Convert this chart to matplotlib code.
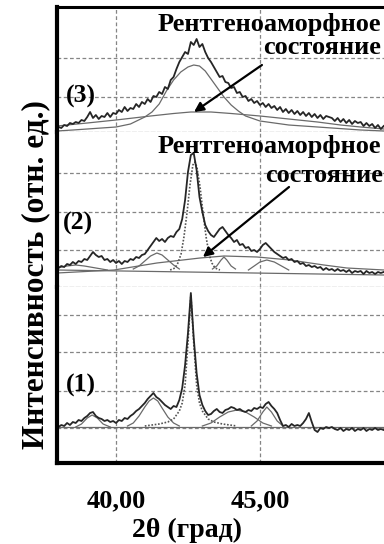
import matplotlib
matplotlib.use("Agg")
import matplotlib.pyplot as plt

plt.rcParams['font.family'] = ['Liberation Serif', 'DejaVu Serif']
plt.rcParams['font.weight'] = 'bold'

# ---------------- data (2θ in degrees, intensity in relative units) -------------
two_theta = [round(38.0 + 0.1 * i, 1) for i in range(114)]

# Sample (3)
exp3 = [5, 4, 7, 6, 9, 8, 10, 9, 12, 11,
        15, 20, 14, 17, 13, 16, 15, 19, 15, 19,
        18, 22, 20, 25, 21, 24, 23, 28, 25, 30,
        28, 33, 30, 36, 35, 40, 38, 45, 43, 52,
        55, 63, 70, 75, 80, 78, 90, 87, 93, 85,
        88, 80, 74, 70, 65, 60, 55, 56, 50, 49,
        44, 45, 39, 40, 35, 36, 31, 33, 29, 31,
        27, 29, 25, 28, 24, 26, 22, 25, 20, 23,
        19, 22, 18, 21, 17, 20, 16, 19, 15, 18,
        14, 17, 13, 16, 15, 14, 11, 14, 10, 13,
        9, 12, 8, 11, 9, 10, 6, 9, 6, 8,
        4, 7, 3, 6]
p3_peak_x = [37.95, 38.5, 39.0, 39.5, 40.0, 40.5, 41.0, 41.25, 41.5, 41.75, 42.0, 42.25,
             42.5, 42.7, 42.9, 43.1, 43.3, 43.5, 43.75, 44.0, 44.25, 44.5, 45.0, 45.5,
             46.0, 46.5, 47.0, 47.5, 48.0, 48.5, 49.31]
p3_peak_y = [1, 2, 3, 4, 5, 8, 15, 20, 28, 41, 52, 60, 65, 67, 66, 61, 53, 45, 35, 27,
             21, 16, 11, 9, 7, 6, 5, 4, 3, 2, 1]
p3_amorph_x = [37.95, 39.0, 40.0, 41.2, 42.0, 42.6, 43.3, 44.0, 45.0, 46.0, 47.0, 47.8, 48.5, 49.31]
p3_amorph_y = [6, 9, 12, 16, 18.5, 20, 20, 18.5, 16, 13, 10, 7, 5, 3]

# Sample (2)
exp2 = [19, 21, 20, 23, 22, 25, 23, 26, 25, 28,
        27, 31, 35, 32, 30, 31, 27, 28, 25, 27,
        24, 26, 23, 26, 25, 28, 27, 30, 29, 32,
        33, 37, 41, 45, 49, 46, 48, 45, 49, 51,
        50, 55, 58, 68, 87, 115, 132, 134, 117, 90,
        75, 62, 56, 52, 50, 54, 58, 60, 56, 52,
        49, 45, 47, 42, 43, 39, 40, 36, 37, 35,
        38, 42, 44, 41, 38, 35, 33, 31, 29, 30,
        27, 28, 25, 26, 23, 24, 21, 22, 20, 21,
        19, 20, 17, 19, 17, 18, 16, 18, 16, 17,
        15, 17, 14, 16, 15, 16, 13, 16, 14, 15,
        13, 15, 14, 15]
p2_base_x = [37.95, 49.31]
p2_base_y = [17, 12]
p2_main_x = [41.88, 42.05, 42.15, 42.26, 42.36, 42.47, 42.57, 42.67, 42.74, 42.81, 42.92,
             43.02, 43.13, 43.23, 43.33, 43.44, 43.61]
p2_main_y = [17, 19, 24, 33, 50, 75, 102, 122, 125, 120, 100, 75, 50, 33, 24, 19, 17]
p2_left_x = [37.95, 38.3, 38.6, 38.9, 39.3, 39.7]
p2_left_y = [19, 21, 22, 21, 19, 17]
p2_s1_x = [40.6, 40.8, 41.0, 41.2, 41.42, 41.6, 41.8, 42.0, 42.2]
p2_s1_y = [18, 21, 26, 31, 34, 32, 27, 22, 18]
p2_s2_x = [43.35, 43.5, 43.65, 43.75, 43.85, 44.0, 44.15]
p2_s2_y = [18, 21, 27, 30, 27, 21, 18]
p2_s3_x = [44.6, 44.8, 45.0, 45.24, 45.5, 45.75, 46.0]
p2_s3_y = [17, 21, 25, 27, 25, 21, 17]
p2_amorph_x = [37.95, 39.93, 41.42, 42.92, 43.75, 44.90, 46.04, 47.22, 48.02, 49.31]
p2_amorph_y = [14, 17, 24, 29, 31, 30, 27, 22, 19, 17]

# Sample (1)
exp1 = [36, 38, 37, 40, 38, 41, 40, 43, 42, 45,
        47, 50, 51, 47, 45, 44, 42, 43, 41, 42,
        40, 43, 42, 45, 44, 47, 49, 52, 54, 57,
        60, 64, 67, 70, 66, 64, 61, 58, 56, 54,
        57, 56, 63, 75, 98, 130, 170, 125, 90, 68,
        58, 52, 48, 49, 52, 54, 51, 50, 53, 54,
        56, 55, 53, 54, 52, 51, 53, 52, 55, 54,
        56, 55, 59, 61, 57, 54, 50, 43, 37, 38,
        36, 39, 37, 38, 37, 40, 44, 50, 41, 33,
        31, 35, 34, 36, 35, 36, 34, 33, 35, 32,
        34, 33, 35, 32, 34, 33, 35, 32, 34, 33,
        35, 33, 34, 33]
p1_base_x = [37.95, 49.31]
p1_base_y = [36, 36]
p1_main_x = [41.0, 41.5, 41.8, 42.0, 42.2, 42.3, 42.4, 42.5, 42.6, 42.7, 42.8, 42.9, 43.0,
             43.2, 43.4, 43.7, 44.2]
p1_main_y = [37, 39, 41, 44, 52, 60, 78, 120, 168, 120, 78, 60, 52, 44, 41, 39, 37]
p1_a_x = [38.6, 38.8, 39.0, 39.17, 39.35, 39.55, 39.8]
p1_a_y = [36, 39, 45, 48, 45, 39, 36]
p1_b_x = [40.4, 40.6, 40.8, 41.0, 41.15, 41.3, 41.45, 41.6, 41.8, 42.0, 42.2]
p1_b_y = [37, 40, 47, 56, 62, 65, 62, 55, 46, 40, 37]
p1_c_x = [43.0, 43.3, 43.6, 43.9, 44.2, 44.5, 44.8, 45.1, 45.4]
p1_c_y = [37, 40, 46, 51, 53, 51, 46, 40, 37]
p1_d_x = [44.7, 44.9, 45.1, 45.24, 45.4, 45.6, 45.8]
p1_d_y = [37, 42, 51, 56, 51, 42, 37]

x_ticks = [40, 45]
x_tick_labels = ['40,00', '45,00']
panel_labels = ['(3)', '(2)', '(1)']
annot_line1 = 'Рентгеноаморфное'
annot_line2 = 'состояние'

# ---------------- figure ----------------
W, H = 384, 544
fig = plt.figure(figsize=(W / 100, H / 100), dpi=100)
fig.patch.set_facecolor('white')


def fx(px):
    return px / W


def fy(py):
    return 1 - py / H


left_px = 57
panels = [  # top_px, bottom_px, ymax, grid values
    (7, 132, 125, [35, 74]),
    (132, 287, 155, [37, 75, 114]),
    (287, 463, 176, [35, 72, 111, 148]),
]
GRID_C = '#858585'
GRID_LS = (0, (3, 2))
EXP_C = '#262626'
COMP_C = '#6a6a6a'
axes = []
for i, (tp, bp, ymax, gy) in enumerate(panels):
    ax = fig.add_axes([fx(left_px), fy(bp), 1 - fx(left_px), (bp - tp) / H])
    ax.set_xlim(37.95, 49.31)
    ax.set_ylim(0, ymax)
    ax.set_xticks(x_ticks)
    ax.set_yticks(gy)
    ax.grid(True, color=GRID_C, linestyle=GRID_LS, linewidth=0.9)
    ax.set_axisbelow(True)
    ax.tick_params(length=0, labelleft=False, labelbottom=False)
    ax.spines['right'].set_visible(False)
    ax.spines['left'].set_linewidth(3.0)
    ax.spines['left'].set_color('black')
    if i == 0:
        ax.spines['top'].set_linewidth(2.2)
        ax.spines['top'].set_color('black')
    else:
        ax.spines['top'].set_visible(False)
    if i < 2:
        ax.spines['bottom'].set_linestyle(GRID_LS)
        ax.spines['bottom'].set_color(GRID_C)
        ax.spines['bottom'].set_linewidth(0.9)
    else:
        ax.spines['bottom'].set_linewidth(3.0)
        ax.spines['bottom'].set_color('black')
    axes.append(ax)

ax3, ax2, ax1 = axes

# panel 3
ax3.plot(p3_amorph_x, p3_amorph_y, color=COMP_C, lw=0.9)
ax3.plot(p3_peak_x, p3_peak_y, color=COMP_C, lw=0.9)
ax3.plot(two_theta, exp3, color=EXP_C, lw=1.3)

# panel 2
ax2.plot(p2_base_x, p2_base_y, color=COMP_C, lw=0.9)
for xs, ys in [(p2_left_x, p2_left_y), (p2_s1_x, p2_s1_y), (p2_s2_x, p2_s2_y),
               (p2_s3_x, p2_s3_y), (p2_amorph_x, p2_amorph_y)]:
    ax2.plot(xs, ys, color=COMP_C, lw=0.9)
ax2.plot(p2_main_x, p2_main_y, color='#555555', lw=1.2, linestyle=(0, (1, 1)))
ax2.plot(two_theta, exp2, color=EXP_C, lw=1.3)

# panel 1
ax1.plot(p1_base_x, p1_base_y, color=COMP_C, lw=0.9)
for xs, ys in [(p1_a_x, p1_a_y), (p1_b_x, p1_b_y), (p1_c_x, p1_c_y), (p1_d_x, p1_d_y)]:
    ax1.plot(xs, ys, color=COMP_C, lw=0.9)
ax1.plot(p1_main_x, p1_main_y, color='#555555', lw=1.2, linestyle=(0, (1, 1)))
ax1.plot(two_theta, exp1, color=EXP_C, lw=1.3)

ax1.tick_params(labelbottom=True, pad=19)
ax1.set_xticklabels(x_tick_labels, fontsize=19, fontweight='bold')

# panel labels
for lab, px, py in [(panel_labels[0], 66, 96), (panel_labels[1], 63, 223), (panel_labels[2], 66, 385)]:
    fig.text(fx(px), fy(py), lab, fontsize=18.5, fontweight='bold', ha='left', va='center')

# annotations
AN_FS = 19
fig.text(fx(381), fy(25), annot_line1, fontsize=AN_FS, fontweight='bold', ha='right', va='center')
fig.text(fx(381), fy(48), annot_line2, fontsize=AN_FS, fontweight='bold', ha='right', va='center')
fig.text(fx(381), fy(147), annot_line1, fontsize=AN_FS, fontweight='bold', ha='right', va='center')
fig.text(fx(383), fy(176), annot_line2, fontsize=AN_FS, fontweight='bold', ha='right', va='center')

arrow = dict(arrowstyle='-|>', color='black', lw=1.6, mutation_scale=14, shrinkA=0, shrinkB=0)
ax3.annotate('', xy=(42.71, 20), xytext=(45.07, 67), arrowprops=arrow)
ax2.annotate('', xy=(43.02, 30), xytext=(46.01, 100), arrowprops=arrow)

# axis titles
fig.text(fx(187), fy(530), '2θ (град)', fontsize=20, fontweight='bold', ha='center', va='center')
fig.text(fx(36), fy(275), 'Интенсивность (отн. ед.)', fontsize=22.5, fontweight='bold',
         ha='center', va='center', rotation=90)

fig.savefig('out.png', dpi=100, facecolor='white')
